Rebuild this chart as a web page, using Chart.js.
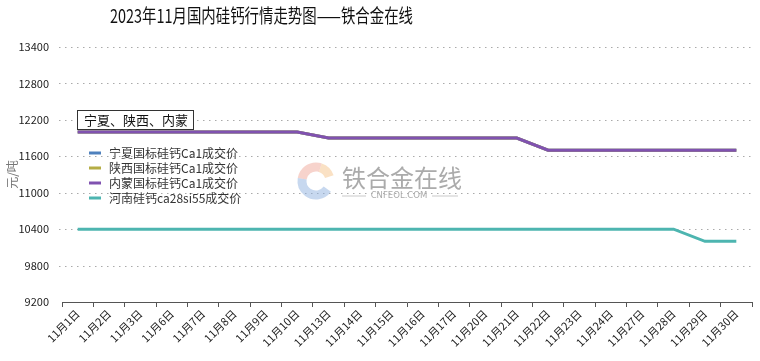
<!DOCTYPE html>
<html>
<head>
<meta charset="utf-8">
<script src="https://cdn.jsdelivr.net/npm/chart.js@4.4.0/dist/chart.umd.min.js"></script>
<style>
  html, body { margin: 0; padding: 0; background: #fff; }
  #wrap { width: 760px; height: 361px; }
</style>
</head>
<body>
<div id="wrap"><canvas id="priceChart" width="760" height="361"></canvas></div>
<script>
// chart data
const dates = ['11月1日', '11月2日', '11月3日', '11月6日', '11月7日', '11月8日', '11月9日', '11月10日',
  '11月13日', '11月14日', '11月15日', '11月16日', '11月17日', '11月20日', '11月21日', '11月22日',
  '11月23日', '11月24日', '11月27日', '11月28日', '11月29日', '11月30日'];
const ningxia = [12000, 12000, 12000, 12000, 12000, 12000, 12000, 12000,
  11900, 11900, 11900, 11900, 11900, 11900, 11900,
  11700, 11700, 11700, 11700, 11700, 11700, 11700];
const shaanxi = [12000, 12000, 12000, 12000, 12000, 12000, 12000, 12000,
  11900, 11900, 11900, 11900, 11900, 11900, 11900,
  11700, 11700, 11700, 11700, 11700, 11700, 11700];
const neimeng = [12000, 12000, 12000, 12000, 12000, 12000, 12000, 12000,
  11900, 11900, 11900, 11900, 11900, 11900, 11900,
  11700, 11700, 11700, 11700, 11700, 11700, 11700];
const henan = [10400, 10400, 10400, 10400, 10400, 10400, 10400, 10400, 10400, 10400, 10400,
  10400, 10400, 10400, 10400, 10400, 10400, 10400, 10400, 10400, 10200, 10200];
const yTicks = [9200, 9800, 10400, 11000, 11600, 12200, 12800, 13400];

const CJK = '"Noto Sans CJK SC", "Noto Sans", sans-serif';

// dotted y grid, title, legend box and watermark drawn by hand
const decorPlugin = {
  id: 'decor',
  beforeDatasetsDraw(chart) {
    const ctx = chart.ctx;
    const yScale = chart.scales.y;
    const area = chart.chartArea;
    ctx.save();
    ctx.strokeStyle = '#aaa';
    ctx.lineWidth = 1;
    ctx.setLineDash([1.5, 4.5]);
    yTicks.slice(1).forEach(v => {
      const y = Math.round(yScale.getPixelForValue(v)) + 0.5;
      ctx.beginPath(); ctx.moveTo(area.left - 3, y); ctx.lineTo(area.right, y); ctx.stroke();
    });
    ctx.setLineDash([]);

    // watermark logo
    const cx = 316, cy = 181;
    ctx.lineWidth = 9;
    ctx.globalAlpha = 0.5;
    ctx.strokeStyle = '#f0a89a';
    ctx.beginPath(); ctx.arc(cx, cy, 14, Math.PI * 1.05, Math.PI * 1.6); ctx.stroke();
    ctx.strokeStyle = '#f5c38a';
    ctx.beginPath(); ctx.arc(cx, cy, 14, Math.PI * 1.6, Math.PI * 1.9); ctx.stroke();
    ctx.strokeStyle = '#8fb2e0';
    ctx.beginPath(); ctx.arc(cx, cy, 14, Math.PI * 0.2, Math.PI * 1.05); ctx.stroke();
    ctx.globalAlpha = 1;
    ctx.fillStyle = '#ababab';
    ctx.font = '24px ' + CJK;
    ctx.textBaseline = 'middle';
    ctx.textAlign = 'left';
    ctx.fillText('铁合金在线', 342, 178);
    ctx.font = '8.5px "DejaVu Sans"';
    ctx.textAlign = 'center';
    ctx.fillText('CNFEOL.COM', 399, 196);
    ctx.strokeStyle = '#bbb';
    ctx.lineWidth = 0.8;
    ctx.beginPath();
    ctx.moveTo(342, 196); ctx.lineTo(366, 196);
    ctx.moveTo(432, 196); ctx.lineTo(458, 196);
    ctx.stroke();
    ctx.restore();
  },
  afterDraw(chart) {
    const ctx = chart.ctx;
    ctx.save();
    // title, condensed a bit horizontally
    const title = '2023年11月国内硅钙行情走势图——铁合金在线';
    ctx.font = '19px ' + CJK;
    const w = ctx.measureText(title).width;
    const sx = 303 / w;
    ctx.translate(261.5, 16);
    ctx.scale(sx, 1);
    ctx.fillStyle = '#111';
    ctx.textAlign = 'center';
    ctx.textBaseline = 'middle';
    ctx.fillText(title, 0, 0);
    ctx.restore();

    // legend group box
    ctx.save();
    ctx.strokeStyle = '#333';
    ctx.lineWidth = 1;
    ctx.fillStyle = '#fff';
    ctx.fillRect(77.5, 110.5, 116, 19);
    ctx.strokeRect(77.5, 110.5, 116, 19);
    ctx.fillStyle = '#111';
    ctx.font = '13px ' + CJK;
    ctx.textBaseline = 'middle';
    ctx.fillText('宁夏、陕西、内蒙', 84, 120);

    // legend items
    ctx.font = '12px ' + CJK;
    chart.data.datasets.forEach((ds, i) => {
      const y = 153 + i * 15;
      ctx.strokeStyle = ds.borderColor;
      ctx.lineWidth = 3;
      ctx.beginPath(); ctx.moveTo(89, y); ctx.lineTo(101, y); ctx.stroke();
      ctx.fillStyle = '#333';
      ctx.fillText(ds.label, 109, y);
    });
    ctx.restore();
  }
};

const ctx = document.getElementById('priceChart').getContext('2d');
new Chart(ctx, {
  type: 'line',
  data: {
    labels: dates,
    datasets: [
      { label: '宁夏国标硅钙Ca1成交价', data: ningxia, borderColor: '#4f81bd', order: 3 },
      { label: '陕西国标硅钙Ca1成交价', data: shaanxi, borderColor: '#b5ad45', order: 2 },
      { label: '内蒙国标硅钙Ca1成交价', data: neimeng, borderColor: '#8052b0', order: 0 },
      { label: '河南硅钙ca28si55成交价', data: henan, borderColor: '#4db5b0', order: 1 }
    ].map(d => Object.assign(d, { borderWidth: 3, pointRadius: 0, tension: 0, fill: false }))
  },
  options: {
    responsive: false,
    animation: false,
    layout: { padding: { top: 47, right: 8, left: 0, bottom: 0 } },
    plugins: {
      legend: { display: false },
      tooltip: { enabled: false }
    },
    scales: {
      x: {
        offset: true,
        grid: { drawOnChartArea: false, offset: true, tickLength: 5, color: '#555' },
        border: { display: true, color: '#555', width: 1 },
        ticks: {
          minRotation: 45, maxRotation: 45, autoSkip: false,
          color: '#222', font: { family: CJK, size: 11 }, padding: 0
        },
        afterFit(scale) { scale.height = 59; }
      },
      y: {
        min: 9200, max: 13400,
        afterBuildTicks(scale) { scale.ticks = yTicks.map(v => ({ value: v })); },
        grid: { display: false },
        border: { display: false },
        ticks: { color: '#222', font: { family: CJK, size: 11 }, padding: 5, callback: v => String(v) },
        title: { display: true, text: '元/吨', color: '#777', font: { family: CJK, size: 12 }, padding: { top: 5, bottom: 0 } },
        afterFit(scale) { scale.width = 62; }
      }
    }
  },
  plugins: [decorPlugin]
});
</script>
</body>
</html>
